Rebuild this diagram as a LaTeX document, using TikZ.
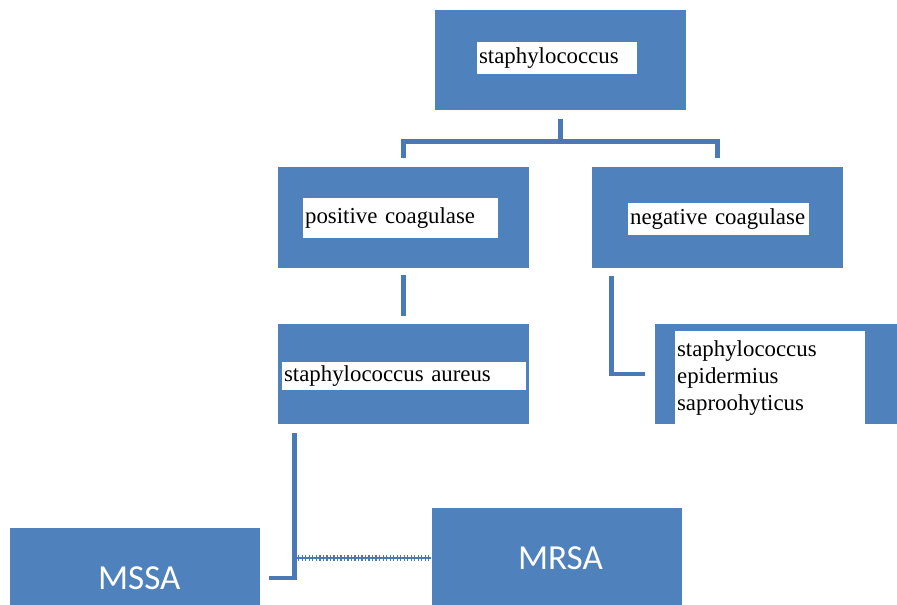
\documentclass[tikz,border=0pt]{standalone}
\usepackage{fontspec}
\setmainfont{Liberation Serif}
\newfontfamily\calibrifont{Carlito}
\usetikzlibrary{calc}
\definecolor{boxblue}{RGB}{79, 129, 189}
\definecolor{lineblue}{RGB}{74, 122, 182}

\tikzset{
  box/.style={fill=boxblue, draw=none, minimum width=5.02cm, minimum height=2.02cm, inner sep=0pt},
  lbl/.style={fill=white, font=\fontsize{13}{15.3}\selectfont, text=black, align=left, inner sep=1pt, anchor=west},
  abbr/.style={box, font=\calibrifont\fontsize{20}{24}\selectfont, text=white},
  link/.style={draw=lineblue, line width=2.8pt},
  hatch/.style={draw=lineblue, line width=1.4pt, postaction={draw=lineblue, line width=3pt, dash pattern=on 0.7pt off 1.3pt}}
}

\begin{document}
\begin{tikzpicture}[x=0.02cm, y=-0.02cm]
  \useasboundingbox (0,0) rectangle (897,605);
  \clip (0,0) rectangle (897,605);

  % Boxes
  \node[box] (root) at (560.5,60) {};
  \node[box] (pos) at (403.5,217.5) {};
  \node[box] (neg) at (717.5,217.5) {};
  \node[box] (aur) at (403.5,374) {};
  \node[box] (epi) at (780.5,374) {};
  \node[abbr] (mssa) at (135,578) {\hspace{5pt}MSSA};
  \node[abbr] (mrsa) at (557,558) {\hspace{4pt}MRSA};

  % Labels on white
  \node[lbl, text width=3.13cm, minimum height=0.66cm] (rootlbl) at (477,58) {staphylococcus};
  \node[lbl, text width=3.83cm, minimum height=0.8cm] (poslbl) at (303,218) {positive coagulase};
  \node[lbl, text width=3.55cm, minimum height=0.66cm] (neglbl) at (628,219) {negative coagulase};
  \node[lbl, text width=4.81cm, minimum height=0.56cm] (aurlbl) at (282,376) {staphylococcus aureus};
  \node[lbl, text width=3.73cm, minimum height=1.9cm] (epilbl) at (675,378) {staphylococcus\\epidermius\\saproohyticus};

  % Connectors
  \coordinate (fork) at ($(root.south)+(0,31)$);
  \draw[link] ($(root.south)+(0,8)$) -- (fork);
  \draw[link] ($(pos.north)+(0,-9)$) |- (fork) -| ($(neg.north)+(0,-9)$);
  \draw[link] ($(pos.south)+(0,7)$) -- ($(aur.north)+(0,-7)$);
  \draw[link] ($(neg.south)+(-106,8)$) |- ($(epi.west)+(-10,0)$);
  \draw[link] ($(aur.south west)+(17,8)$) coordinate (drop) |- ($(mssa.east)+(8,0)$);
  \draw[hatch] (drop |- mrsa.west) -- (mrsa.west);
\end{tikzpicture}
\end{document}
